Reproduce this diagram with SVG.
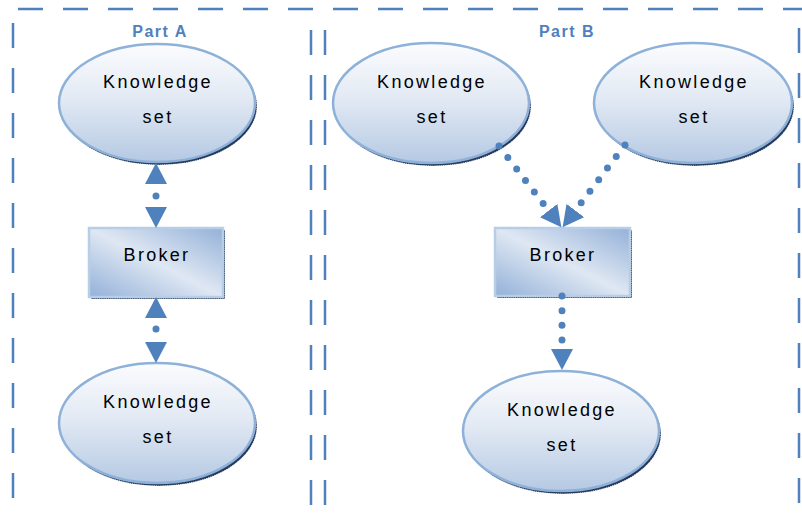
<svg xmlns="http://www.w3.org/2000/svg" width="802" height="513" viewBox="0 0 802 513">
  <defs>
    <style>
      .frame { fill: none; stroke: #4f81bd; stroke-width: 2.5; stroke-dasharray: 25 20; }
      .part { font-family: "Liberation Sans", Arial, sans-serif; font-weight: bold; font-size: 16px; fill: #4f81bd; letter-spacing: 1.5px; text-anchor: middle; }
      .label { font-family: "Liberation Sans", Arial, sans-serif; font-size: 18px; fill: #000; letter-spacing: 2.3px; text-anchor: middle; }
      .oval { fill: url(#ovalFill); stroke: #8eb1d9; stroke-width: 2.5; }
      .box { fill: url(#boxFill); stroke: #b8cde6; stroke-width: 2.5; }
      .shade { fill: #263a5c; stroke: #ffffff; stroke-width: 1; stroke-dasharray: 1 1.2; }
      .link { fill: none; stroke: #4f81bd; stroke-width: 7; stroke-linecap: round; }
    </style>
    <linearGradient id="ovalFill" x1="0" y1="0" x2="0" y2="1">
      <stop offset="0" stop-color="#fbfcfe"/>
      <stop offset="0.45" stop-color="#e3eaf4"/>
      <stop offset="1" stop-color="#b5c9e3"/>
    </linearGradient>
    <linearGradient id="boxFill" x1="0" y1="1" x2="1" y2="0">
      <stop offset="0" stop-color="#93b1d8"/>
      <stop offset="0.5" stop-color="#dfe7f3"/>
      <stop offset="1" stop-color="#93b1d8"/>
    </linearGradient>
    <marker id="head" markerUnits="userSpaceOnUse" markerWidth="22" markerHeight="22" refX="0" refY="11" orient="auto-start-reverse" viewBox="0 0 22 22">
      <path d="M0,0 L21,11 L0,22 Z" fill="#4f81bd"/>
    </marker>
  </defs>

  <rect width="802" height="513" fill="#ffffff"/>

  <!-- dashed frames -->
  <g id="frames">
    <line class="frame" x1="18" y1="9" x2="802" y2="9"/>
    <line class="frame" x1="13" y1="23" x2="13" y2="505"/>
    <line class="frame" x1="311" y1="30" x2="311" y2="505"/>
    <line class="frame" x1="325" y1="30" x2="325" y2="505"/>
    <line class="frame" x1="799" y1="28" x2="799" y2="505"/>
  </g>

  <text class="part" x="160" y="37">Part A</text>
  <text class="part" x="567" y="37">Part B</text>

  <!-- Part A -->
  <g id="kA1">
    <ellipse class="shade" cx="159" cy="106" rx="98" ry="59"/>
    <ellipse class="oval" cx="157" cy="103" rx="98" ry="59"/>
    <text class="label" x="158" y="88">Knowledge</text>
    <text class="label" x="158" y="123">set</text>
  </g>
  <g id="brokerA">
    <rect class="shade" x="91" y="230" width="134" height="69"/>
    <rect class="box" x="89" y="228" width="134" height="69"/>
    <text class="label" x="157" y="261">Broker</text>
  </g>
  <g id="kA2">
    <ellipse class="shade" cx="159" cy="426" rx="98" ry="60"/>
    <ellipse class="oval" cx="157" cy="423" rx="98" ry="60"/>
    <text class="label" x="158" y="408">Knowledge</text>
    <text class="label" x="158" y="443">set</text>
  </g>

  <!-- Part B -->
  <g id="kB1">
    <ellipse class="shade" cx="433" cy="106" rx="98" ry="60"/>
    <ellipse class="oval" cx="431" cy="103" rx="98" ry="60"/>
    <text class="label" x="432" y="88">Knowledge</text>
    <text class="label" x="432" y="123">set</text>
  </g>
  <g id="kB2">
    <ellipse class="shade" cx="695" cy="106" rx="99" ry="60"/>
    <ellipse class="oval" cx="693" cy="103" rx="99" ry="60"/>
    <text class="label" x="694" y="88">Knowledge</text>
    <text class="label" x="694" y="123">set</text>
  </g>
  <g id="brokerB">
    <rect class="shade" x="497" y="230" width="135" height="68"/>
    <rect class="box" x="495" y="228" width="135" height="68"/>
    <text class="label" x="563" y="261">Broker</text>
  </g>
  <g id="kB3">
    <ellipse class="shade" cx="563" cy="434" rx="98" ry="60"/>
    <ellipse class="oval" cx="561" cy="431" rx="98" ry="60"/>
    <text class="label" x="562" y="416">Knowledge</text>
    <text class="label" x="562" y="451">set</text>
  </g>

  <!-- connectors -->
  <g id="connectors">
    <path class="link" d="M156,184 L156,207" stroke-dasharray="0 40" stroke-dashoffset="28" marker-start="url(#head)" marker-end="url(#head)"/>
    <path class="link" d="M156,318 L156,342" stroke-dasharray="0 40" stroke-dashoffset="29" marker-start="url(#head)" marker-end="url(#head)"/>
    <path class="link" d="M499,146 L548.6,210.6" stroke-dasharray="0 14.5" marker-end="url(#head)"/>
    <path class="link" d="M625,145 L575.3,210.5" stroke-dasharray="0 14.5" marker-end="url(#head)"/>
    <path class="link" d="M562,296 L562,349" stroke-dasharray="0 14.67" marker-end="url(#head)"/>
  </g>
</svg>
